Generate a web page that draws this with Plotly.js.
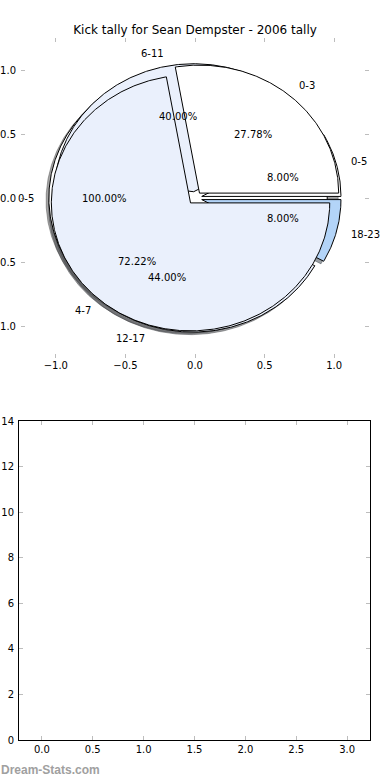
<!DOCTYPE html>
<html><head><meta charset="utf-8">
<script src="https://cdn.plot.ly/plotly-3.0.1.min.js"></script>
<style>html,body{margin:0;padding:0;background:#fff}#chart{width:390px;height:780px}</style>
</head><body><div id="chart"></div>
<script>
// ---------- data ----------
const titleText = 'Kick tally for Sean Dempster - 2006 tally';
const pieALabels = ['0-5'];
const pieAValues = [100];
const pieCLabels = ['0-5', '6-11', '12-17', '18-23'];
const pieCValues = [8, 40, 44, 8];
const pieBLabels = ['0-3', '4-7'];
const pieBValues = [27.78, 72.22];
const pieTickVals = [-1, -0.5, 0, 0.5, 1];
const pieTickText = ['\u22121.0', '\u22120.5', '0.0', '0.5', '1.0'];
const barXTickVals = [0, 0.5, 1, 1.5, 2, 2.5, 3];
const barXTickText = ['0.0', '0.5', '1.0', '1.5', '2.0', '2.5', '3.0'];
const barYTickVals = [0, 2, 4, 6, 8, 10, 12, 14];
const barYTickText = ['0', '2', '4', '6', '8', '10', '12', '14'];
const watermarkText = 'Dream-Stats.com';

// ---------- styles ----------
const WHITE = [255, 255, 255], LIGHT = [234, 240, 252], BLUE = [179, 212, 248];
const pieAColors = [WHITE];
const pieCColors = [WHITE, LIGHT, LIGHT, BLUE];
const pieBColors = [WHITE, LIGHT];
const EXPLODE = 0.05, SHADOW_OFF = -0.02;
const FONT = 'DejaVu Sans, sans-serif';

const pies = [
  {labels: pieALabels, values: pieAValues, colors: pieAColors},
  {labels: pieCLabels, values: pieCValues, colors: pieCColors},
  {labels: pieBLabels, values: pieBValues, colors: pieBColors}
];

function rgb(c) { return 'rgb(' + c.join(',') + ')'; }
function shade(c) { return 'rgba(' + c.map(v => Math.round(v * 0.3)).join(',') + ',0.5)'; }

function wedge(cx, cy, t1, t2) {
  const full = Math.abs(t2 - t1 - 360) < 1e-9;
  const n = Math.max(4, Math.ceil(Math.abs(t2 - t1) / 0.5));
  const xs = [], ys = [];
  if (!full) { xs.push(cx); ys.push(cy); }
  for (let i = 0; i <= n; i++) {
    const a = (t1 + (t2 - t1) * i / n) * Math.PI / 180;
    xs.push(cx + Math.cos(a)); ys.push(cy + Math.sin(a));
  }
  if (!full) { xs.push(cx); ys.push(cy); }
  return {xs, ys};
}

const shadowTraces = [], wedgeTraces = [], annotations = [];
pies.forEach(p => {
  const total = p.values.reduce((s, v) => s + v, 0);
  let theta = 0;
  p.values.forEach((v, i) => {
    const frac = v / total;
    const t1 = theta, t2 = theta + frac * 360;
    theta = t2;
    const mid = (t1 + t2) / 2 * Math.PI / 180;
    const cx = EXPLODE * Math.cos(mid), cy = EXPLODE * Math.sin(mid);
    const w = wedge(cx, cy, t1, t2);
    const col = p.colors[i % p.colors.length];
    shadowTraces.push({
      type: 'scatter', mode: 'lines', x: w.xs.map(x => x + SHADOW_OFF), y: w.ys.map(y => y + SHADOW_OFF),
      fill: 'toself', fillcolor: shade(col), line: {color: shade(col), width: 1},
      hoverinfo: 'skip', showlegend: false, xaxis: 'x', yaxis: 'y'
    });
    wedgeTraces.push({
      type: 'scatter', mode: 'lines', x: w.xs, y: w.ys,
      fill: 'toself', fillcolor: rgb(col), line: {color: '#000', width: 1},
      hoverinfo: 'skip', showlegend: false, xaxis: 'x', yaxis: 'y'
    });
    const lx = cx + 1.1 * Math.cos(mid), ly = cy + 1.1 * Math.sin(mid);
    annotations.push({
      xref: 'x', yref: 'y', x: lx, y: ly, text: p.labels[i], showarrow: false,
      xanchor: lx > 0 ? 'left' : 'right', yanchor: 'middle', borderpad: 0,
      font: {family: FONT, size: 10, color: '#000'}
    });
    annotations.push({
      xref: 'x', yref: 'y', x: cx + 0.6 * Math.cos(mid), y: cy + 0.6 * Math.sin(mid),
      text: (frac * 100).toFixed(2) + '%', showarrow: false,
      xanchor: 'center', yanchor: 'middle', borderpad: 0,
      font: {family: FONT, size: 10, color: '#000'}
    });
  });
});

// empty lower axes
const emptyTrace = {type: 'bar', x: [], y: [], xaxis: 'x2', yaxis: 'y2', showlegend: false, hoverinfo: 'skip'};

annotations.push({
  xref: 'paper', yref: 'paper', x: 0, y: 10 / 780, xanchor: 'left', yanchor: 'middle',
  text: '<b>' + watermarkText + '</b>', showarrow: false, borderpad: 0,
  font: {family: 'Liberation Sans, Arial, sans-serif', size: 12, color: '#a0a0a0'}
});

const tickFont = {family: FONT, size: 10, color: '#000'};
const W = 390, H = 780;
const layout = {
  width: W, height: H, margin: {l: 0, r: 0, t: 0, b: 0},
  paper_bgcolor: '#fff', plot_bgcolor: 'rgba(0,0,0,0)', showlegend: false,
  title: {text: titleText, x: 0.5, xanchor: 'center', y: 1 - 30 / H, yanchor: 'middle', yref: 'container',
          font: {family: FONT, size: 12, color: '#000'}},
  xaxis: {domain: [21 / W, 369 / W], range: [-1.25, 1.25], anchor: 'y', showgrid: false, zeroline: false,
          showline: false, ticks: 'inside', ticklen: 4, tickwidth: 1, tickcolor: '#bdbdbd', mirror: 'ticks',
          tickvals: pieTickVals, ticktext: pieTickText, tickfont: tickFont, fixedrange: true},
  yaxis: {domain: [(H - 358) / H, (H - 38) / H], range: [-1.25, 1.25], anchor: 'x', showgrid: false, zeroline: false,
          showline: false, ticks: 'inside', ticklen: 4, tickwidth: 1, tickcolor: '#bdbdbd', mirror: 'ticks',
          ticklabelstandoff: 4,
          tickvals: pieTickVals, ticktext: pieTickText, tickfont: tickFont, fixedrange: true},
  xaxis2: {domain: [19 / W, 370 / W], range: [-0.225, 3.225], anchor: 'y2', showgrid: false, zeroline: false,
           showline: true, linecolor: '#000', linewidth: 1, mirror: 'ticks', ticks: 'inside', ticklen: 4,
           tickcolor: '#bdbdbd', tickvals: barXTickVals, ticktext: barXTickText, tickfont: tickFont, fixedrange: true},
  yaxis2: {domain: [(H - 740) / H, (H - 421) / H], range: [0, 14], anchor: 'x2', showgrid: false, zeroline: false,
           showline: true, linecolor: '#000', linewidth: 1, mirror: 'ticks', ticks: 'inside', ticklen: 4,
           ticklabelstandoff: 2,
           tickcolor: '#bdbdbd', tickvals: barYTickVals, ticktext: barYTickText, tickfont: tickFont, fixedrange: true},
  annotations: annotations
};

Plotly.newPlot('chart', shadowTraces.concat(wedgeTraces, [emptyTrace]), layout, {staticPlot: true, displayModeBar: false});
</script>
</body></html>
